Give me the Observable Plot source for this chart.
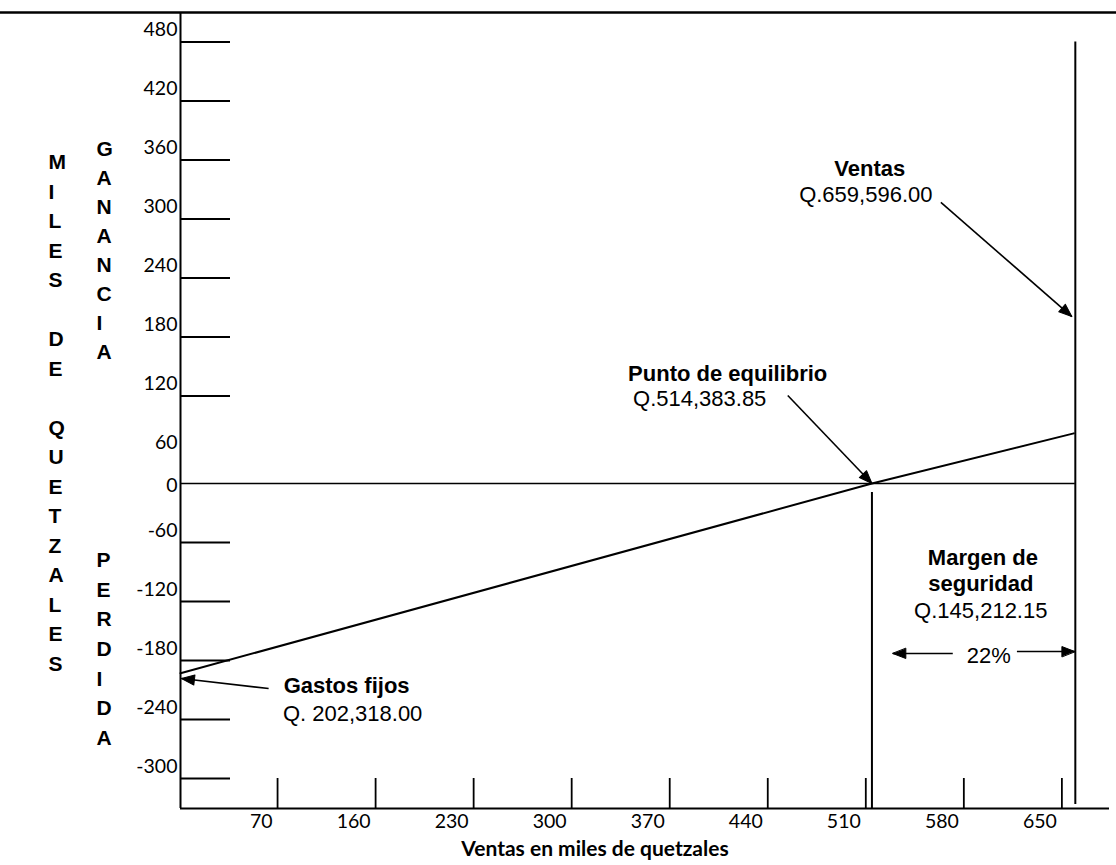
<!DOCTYPE html>
<html>
<head>
<meta charset="utf-8">
<script src="https://cdn.jsdelivr.net/npm/d3@7"></script>
<script src="https://cdn.jsdelivr.net/npm/@observablehq/plot@0.6"></script>
<style>
  body { margin: 0; background: #fff; }
  #chart svg { display: block; }
</style>
</head>
<body>
<div id="chart"></div>
<script>
// ---- key values (miles de quetzales) ----
const ventasTotal = 659.596;
const puntoEquilibrio = 514.38385;
const gastosFijos = 202.318;

// ---- x axis (ventas) ----
const xTickAt = [90, 160, 230, 300, 370, 440, 510, 580, 650];
const xTickLabels = ["70", "160", "230", "300", "370", "440", "510", "580", "650"];
const xTitle = "Ventas en miles de quetzales";

// ---- y axis (ganancia / pérdida) ----
const yTickLabels = ["480", "420", "360", "300", "240", "180", "120", "60", "0", "-60", "-120", "-180", "-240", "-300"];
const yTickAt = [449, 389, 329, 269, 209, 149, 89, 29, 0, -60, -120, -180, -240, -300];
const yTickDrawn = [true, true, true, true, true, true, true, false, false, true, true, true, true, true];

// ---- profit line ----
const lineVentas = [20.7, 514.38, 658.5];
const lineUtilidad = [-193, 0, 51];

// ---- annotations ----
const annText = ["Ventas", "Q.659,596.00", "Punto de equilibrio", "Q.514,383.85", "Margen de", "seguridad", "Q.145,212.15", "22%", "Gastos fijos", "Q. 202,318.00"];
const annX = [512.8, 510, 411.4, 391.4, 593.6, 592.1, 592.1, 597.8, 139.3, 143.6];
const annY = [320.3, 293.9, 111.9, 86.4, -75.3, -101.7, -129.2, -174.9, -205.4, -233.9];
const annBold = [true, false, true, false, true, true, false, false, true, false];

// ---- arrows ----
const arrowX1 = [563.6, 454.3, 572.1, 617.9, 83.6];
const arrowY1 = [285.8, 89.5, -172.9, -170.9, -208.5];
const arrowX2 = [657.1, puntoEquilibrio, 529.3, 659.3, 21.4];
const arrowY2 = [169.8, 0, -172.9, -170.9, -198.3];

// ---- vertical side labels ----
const sideMain = "MILES DE QUETZALES";
const sideGanancia = "GANANCIA";
const sidePerdida = "PERDIDA";
const sideGananciaY = 239.5;
const sidePerdidaY = -165.8;

const xDomain = [20.7, 684];
const yDomain = [-330.5, 479];

const stack = (s) => s.split("").map(c => c === " " ? "" : c).join("\n");
const idx = (arr) => arr.map((_, i) => i);

const TICK_FONT = "Lato, 'Open Sans', sans-serif";
const ARIAL = "'Liberation Sans', Arial, sans-serif";

function build(heads) {
  const W = 1116, H = 865, mL = 180, mR = 7, mT = 12, mB = 57;
  const frameW = W - mL - mR, frameH = H - mT - mB;
  const yIdx = idx(yTickAt);
  const aIdx = idx(annText);
  return Plot.plot({
    width: W, height: H,
    marginLeft: mL, marginRight: mR, marginTop: mT, marginBottom: mB,
    x: {domain: xDomain, axis: null},
    y: {domain: yDomain, axis: null},
    style: {background: "#fff", color: "#000", overflow: "visible"},
    marks: [
      // top border of the page
      Plot.ruleY([yDomain[1]], {insetLeft: -mL, insetRight: -mR, stroke: "#000", strokeWidth: 2.6}),
      // axes lines
      Plot.ruleX([xDomain[0]], {stroke: "#000", strokeWidth: 2}),
      Plot.ruleY([yDomain[0]], {stroke: "#000", strokeWidth: 2}),
      // y tick marks
      Plot.ruleY(yIdx.filter(i => yTickDrawn[i]), {y: i => yTickAt[i], insetRight: frameW - 50, stroke: "#000", strokeWidth: 1.8}),
      // y tick labels
      Plot.text(yIdx.filter(i => yTickAt[i] !== 0), {y: i => yTickAt[i], text: i => yTickLabels[i], frameAnchor: "left", textAnchor: "end", dx: -3, dy: -12, fontSize: 19.5, fontFamily: TICK_FONT, fill: "#000"}),
      Plot.text(yIdx.filter(i => yTickAt[i] === 0), {y: i => yTickAt[i], text: i => yTickLabels[i], frameAnchor: "left", textAnchor: "end", dx: -3, dy: 2, fontSize: 19.5, fontFamily: TICK_FONT, fill: "#000"}),
      // x tick marks
      Plot.ruleX(xTickAt, {insetTop: frameH - 30, stroke: "#000", strokeWidth: 1.8}),
      // x tick labels
      Plot.text(idx(xTickAt), {x: i => xTickAt[i], text: i => xTickLabels[i], frameAnchor: "bottom", textAnchor: "end", dx: -5, dy: 19, fontSize: 19.5, fontFamily: TICK_FONT, fill: "#000"}),
      // x title
      Plot.text([xTitle], {text: d => d, frameAnchor: "bottom", dx: -50, dy: 47, fontSize: 21, fontWeight: "bold", fontFamily: TICK_FONT, fill: "#000"}),
      // side labels
      Plot.text([stack(sideMain)], {text: d => d, frameAnchor: "left", dx: -132, lineAnchor: "middle", lineHeight: 1.405, fontSize: 21, fontWeight: "bold", fontFamily: ARIAL, fill: "#000"}),
      Plot.text([stack(sideGanancia)], {text: d => d, y: sideGananciaY, frameAnchor: "left", dx: -84, lineAnchor: "middle", lineHeight: 1.38, fontSize: 21, fontWeight: "bold", fontFamily: ARIAL, fill: "#000"}),
      Plot.text([stack(sidePerdida)], {text: d => d, y: sidePerdidaY, frameAnchor: "left", dx: -84, lineAnchor: "middle", lineHeight: 1.415, fontSize: 21, fontWeight: "bold", fontFamily: ARIAL, fill: "#000"}),
      // zero line
      Plot.ruleY([0], {x1: xDomain[0], x2: ventasTotal, stroke: "#000", strokeWidth: 1.6}),
      // break-even vertical
      Plot.ruleX([puntoEquilibrio], {y1: 0, y2: yDomain[0], insetTop: 9, stroke: "#000", strokeWidth: 2}),
      // sales vertical
      Plot.ruleX([ventasTotal], {y1: yTickAt[0], y2: yDomain[0], insetBottom: 4, stroke: "#000", strokeWidth: 2}),
      // profit line
      Plot.line(idx(lineVentas), {x: i => lineVentas[i], y: i => lineUtilidad[i], stroke: "#000", strokeWidth: 2}),
      // arrow shafts
      Plot.link(idx(arrowX1), {x1: i => arrowX1[i], y1: i => arrowY1[i], x2: i => arrowX2[i], y2: i => arrowY2[i], stroke: "#000", strokeWidth: 1.6}),
      // arrow heads
      Plot.vector(heads, {
        x: "x", y: "y", rotate: "a", length: 13, anchor: "end",
        shape: {draw(ctx, l) { ctx.moveTo(0, -l); ctx.lineTo(-5, 0); ctx.lineTo(5, 0); ctx.closePath(); }},
        fill: "#000", stroke: "#000", strokeWidth: 1
      }),
      // annotations
      Plot.text(aIdx.filter(i => annBold[i]), {x: i => annX[i], y: i => annY[i], text: i => annText[i], fontSize: 22, fontWeight: "bold", fontFamily: ARIAL, fill: "#000"}),
      Plot.text(aIdx.filter(i => !annBold[i]), {x: i => annX[i], y: i => annY[i], text: i => annText[i], fontSize: 22, fontFamily: ARIAL, fill: "#000"})
    ]
  });
}

const first = build([]);
const sx = first.scale("x"), sy = first.scale("y");
const heads = arrowX1.map((_, i) => {
  const dx = sx.apply(arrowX2[i]) - sx.apply(arrowX1[i]);
  const dy = sy.apply(arrowY2[i]) - sy.apply(arrowY1[i]);
  return {x: arrowX2[i], y: arrowY2[i], a: Math.atan2(dx, -dy) * 180 / Math.PI};
});
document.getElementById("chart").appendChild(build(heads));
</script>
</body>
</html>
